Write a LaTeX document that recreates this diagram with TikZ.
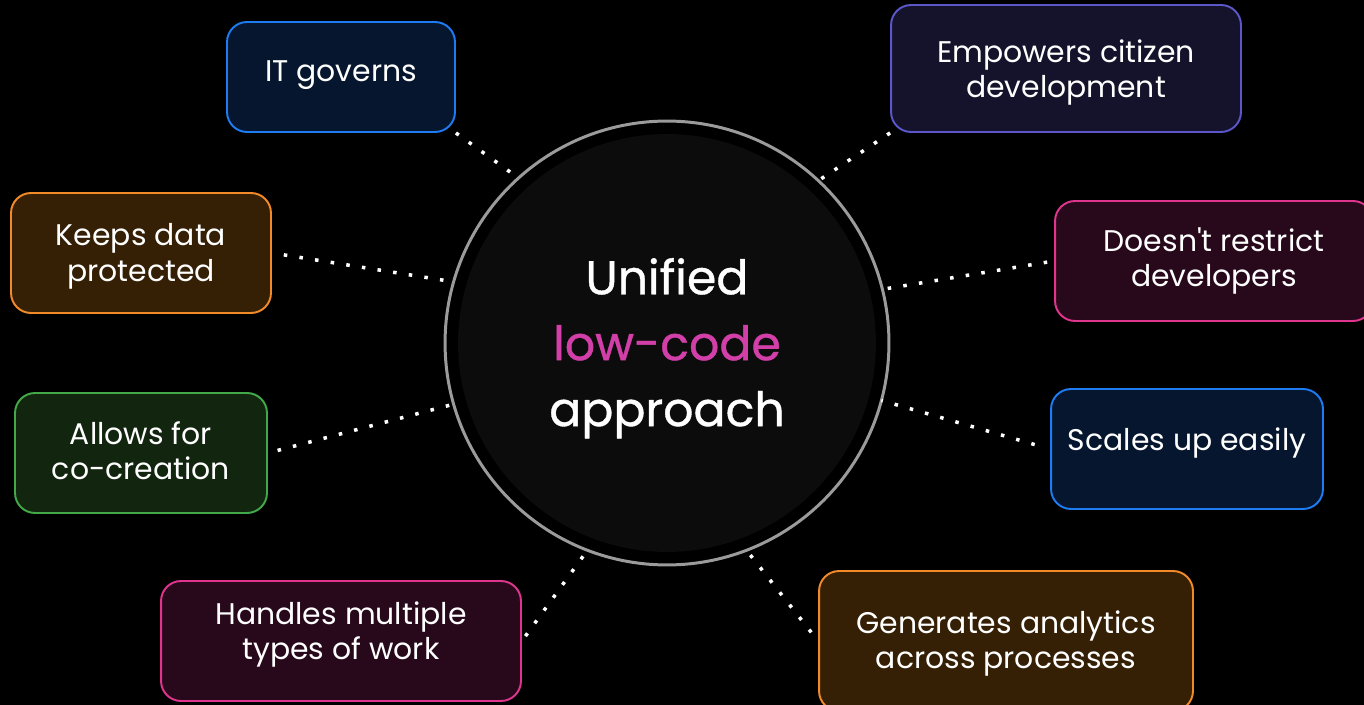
\documentclass[tikz,border=0pt]{standalone}
\usepackage{fontspec}
\setmainfont{Poppins}
\usepackage{xcolor}
\usepackage{tikz}
\definecolor{ring}{HTML}{9B9B9B}
\definecolor{disc}{HTML}{0C0C0C}
\definecolor{magenta}{HTML}{D23FA8}
\definecolor{blueline}{HTML}{1D7CF2}
\definecolor{bluefill}{HTML}{06162E}
\definecolor{indigoline}{HTML}{5B57C9}
\definecolor{indigofill}{HTML}{14132B}
\definecolor{orangeline}{HTML}{F28A28}
\definecolor{orangefill}{HTML}{352005}
\definecolor{pinkline}{HTML}{E0358E}
\definecolor{pinkfill}{HTML}{28091B}
\definecolor{greenline}{HTML}{43A847}
\definecolor{greenfill}{HTML}{11250F}
% card text: lines in a tabular, lifted without changing its box
\newcommand\cardtext[2]{\raisebox{#1}[\height][\depth]{\begin{tabular}{@{}c@{}}#2\end{tabular}}}
\tikzset{
  card/.style={rounded corners=0.4cm, line width=1.1pt, text=white,
    font=\fontsize{17}{20}\selectfont, inner sep=0pt, minimum height=2.4cm},
  bluecard/.style={card, draw=blueline, fill=bluefill},
  indigocard/.style={card, draw=indigoline, fill=indigofill},
  orangecard/.style={card, draw=orangeline, fill=orangefill},
  pinkcard/.style={card, draw=pinkline, fill=pinkfill},
  greencard/.style={card, draw=greenline, fill=greenfill},
  dots/.style={draw=white, line width=2pt, dash pattern=on 2pt off 7pt},
}

\begin{document}
\begin{tikzpicture}[x=0.02cm, y=-0.02cm]
\fill[black] (0,0) rectangle (1364,705);
\useasboundingbox (0,0) rectangle (1364,705);

% centre
\fill[disc] (667,343) circle (4.18cm);
\node[circle, draw=ring, line width=1.7pt, minimum size=8.88cm, outer sep=0pt] (hub) at (667,343) {};
\node[text=white, inner sep=0pt,
  font={\fontsize{27}{37.5}\selectfont\addfontfeatures{FakeBold=0.8}}] (hubtext) at (667,347)
  {\cardtext{0pt}{Unified\\\textcolor{magenta}{low-code}\\approach}};

% cards
\node[bluecard, minimum width=4.56cm, minimum height=2.2cm] (itgov) at (341,77) {\cardtext{1.4pt}{IT governs}};
\node[indigocard, minimum width=7cm, minimum height=2.54cm] (empower) at (1066,68.5) {\cardtext{-2.6pt}{Empowers citizen\\development}};
\node[orangecard, minimum width=5.2cm] (keep) at (141,253) {\cardtext{-2pt}{Keeps data\\protected}};
\node[pinkcard, minimum width=6.36cm] (norestrict) at (1214,261) {\cardtext{-0.6pt}{Doesn\textquotesingle t restrict\\developers}};
\node[greencard, minimum width=5.04cm] (allow) at (141,453) {\cardtext{-1.1pt}{Allows for\\co-creation}};
\node[bluecard, minimum width=5.44cm] (scaleup) at (1187,449) {\cardtext{3.1pt}{Scales up easily}};
\node[pinkcard, minimum width=7.2cm] (handles) at (341,641) {\cardtext{3.4pt}{Handles multiple\\types of work}};
\node[orangecard, minimum width=7.48cm, minimum height=2.8cm] (generate) at (1006,641) {\cardtext{-1.5pt}{Generates analytics\\across processes}};

% dotted links
\draw[dots] (itgov.south east) -- (hub.132);
\draw[dots] (empower.south west) -- (hub.47);
\draw[dots, shorten <=0.24cm] (keep.east) -- (hub.164);
\draw[dots, shorten <=0.14cm] (norestrict.west) -- (hub.14);
\draw[dots, shorten <=0.2cm] (allow.east) -- (hub.196);
\draw[dots, shorten <=0.32cm] (scaleup.west) -- (hub.-15);
\draw[dots, shorten <=0.12cm] (handles.east) -- (hub.-111);
\draw[dots, shorten <=0.22cm] (generate.west) -- (hub.-69);
\end{tikzpicture}
\end{document}
